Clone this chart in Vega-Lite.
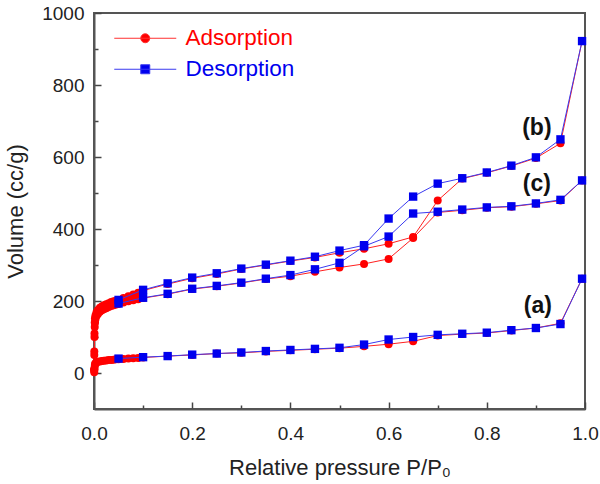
{
  "$schema": "https://vega.github.io/schema/vega-lite/v6.json",
  "width": 491,
  "height": 396,
  "autosize": {"type": "none"},
  "padding": {"left": 94, "top": 13, "right": 15, "bottom": 75},
  "background": "white",
  "config": {
    "font": "Liberation Sans",
    "view": {"stroke": "#555555", "strokeWidth": 2},
    "axis": {
      "grid": false,
      "domainColor": "#555555",
      "domainWidth": 2,
      "tickColor": "#444444",
      "tickWidth": 1.5,
      "labelFont": "Liberation Sans",
      "labelFontSize": 19,
      "labelColor": "#222222",
      "labelFlush": false,
      "labelOverlap": false,
      "titleFont": "Liberation Sans",
      "titleFontSize": 22,
      "titleFontWeight": "normal",
      "titleColor": "#222222"
    }
  },
  "datasets": {
    "iso": [
      {"c": "a", "t": "Adsorption", "p": 0.0005, "v": 2},
      {"c": "a", "t": "Adsorption", "p": 0.001, "v": 10},
      {"c": "a", "t": "Adsorption", "p": 0.0015, "v": 18},
      {"c": "a", "t": "Adsorption", "p": 0.002, "v": 24},
      {"c": "a", "t": "Adsorption", "p": 0.003, "v": 27},
      {"c": "a", "t": "Adsorption", "p": 0.005, "v": 29},
      {"c": "a", "t": "Adsorption", "p": 0.008, "v": 31},
      {"c": "a", "t": "Adsorption", "p": 0.012, "v": 32},
      {"c": "a", "t": "Adsorption", "p": 0.016, "v": 33},
      {"c": "a", "t": "Adsorption", "p": 0.02, "v": 34},
      {"c": "a", "t": "Adsorption", "p": 0.025, "v": 35},
      {"c": "a", "t": "Adsorption", "p": 0.03, "v": 36},
      {"c": "a", "t": "Adsorption", "p": 0.035, "v": 36},
      {"c": "a", "t": "Adsorption", "p": 0.04, "v": 37},
      {"c": "a", "t": "Adsorption", "p": 0.045, "v": 38},
      {"c": "a", "t": "Adsorption", "p": 0.05, "v": 38},
      {"c": "a", "t": "Adsorption", "p": 0.06, "v": 39},
      {"c": "a", "t": "Adsorption", "p": 0.07, "v": 40},
      {"c": "a", "t": "Adsorption", "p": 0.08, "v": 41},
      {"c": "a", "t": "Adsorption", "p": 0.09, "v": 42},
      {"c": "a", "t": "Adsorption", "p": 0.1, "v": 43},
      {"c": "a", "t": "Adsorption", "p": 0.15, "v": 47},
      {"c": "a", "t": "Adsorption", "p": 0.2, "v": 50},
      {"c": "a", "t": "Adsorption", "p": 0.25, "v": 54},
      {"c": "a", "t": "Adsorption", "p": 0.3, "v": 56},
      {"c": "a", "t": "Adsorption", "p": 0.35, "v": 60},
      {"c": "a", "t": "Adsorption", "p": 0.4, "v": 63},
      {"c": "a", "t": "Adsorption", "p": 0.45, "v": 66},
      {"c": "a", "t": "Adsorption", "p": 0.5, "v": 69},
      {"c": "a", "t": "Adsorption", "p": 0.55, "v": 74},
      {"c": "a", "t": "Adsorption", "p": 0.6, "v": 80},
      {"c": "a", "t": "Adsorption", "p": 0.65, "v": 88},
      {"c": "a", "t": "Adsorption", "p": 0.7, "v": 104},
      {"c": "a", "t": "Adsorption", "p": 0.75, "v": 108},
      {"c": "a", "t": "Adsorption", "p": 0.8, "v": 111},
      {"c": "a", "t": "Adsorption", "p": 0.85, "v": 118},
      {"c": "a", "t": "Adsorption", "p": 0.9, "v": 125},
      {"c": "a", "t": "Adsorption", "p": 0.95, "v": 138},
      {"c": "a", "t": "Adsorption", "p": 0.994, "v": 262},
      {"c": "a", "t": "Desorption", "p": 0.05, "v": 40},
      {"c": "a", "t": "Desorption", "p": 0.1, "v": 44},
      {"c": "a", "t": "Desorption", "p": 0.15, "v": 47},
      {"c": "a", "t": "Desorption", "p": 0.2, "v": 51},
      {"c": "a", "t": "Desorption", "p": 0.25, "v": 54},
      {"c": "a", "t": "Desorption", "p": 0.3, "v": 57},
      {"c": "a", "t": "Desorption", "p": 0.35, "v": 61},
      {"c": "a", "t": "Desorption", "p": 0.4, "v": 64},
      {"c": "a", "t": "Desorption", "p": 0.45, "v": 67},
      {"c": "a", "t": "Desorption", "p": 0.5, "v": 70},
      {"c": "a", "t": "Desorption", "p": 0.55, "v": 79},
      {"c": "a", "t": "Desorption", "p": 0.6, "v": 93},
      {"c": "a", "t": "Desorption", "p": 0.65, "v": 100},
      {"c": "a", "t": "Desorption", "p": 0.7, "v": 106},
      {"c": "a", "t": "Desorption", "p": 0.75, "v": 109},
      {"c": "a", "t": "Desorption", "p": 0.8, "v": 112},
      {"c": "a", "t": "Desorption", "p": 0.85, "v": 119},
      {"c": "a", "t": "Desorption", "p": 0.9, "v": 125},
      {"c": "a", "t": "Desorption", "p": 0.95, "v": 136},
      {"c": "a", "t": "Desorption", "p": 0.994, "v": 262},

      {"c": "b", "t": "Adsorption", "p": 0.0003, "v": 10},
      {"c": "b", "t": "Adsorption", "p": 0.0006, "v": 60},
      {"c": "b", "t": "Adsorption", "p": 0.001, "v": 110},
      {"c": "b", "t": "Adsorption", "p": 0.0015, "v": 140},
      {"c": "b", "t": "Adsorption", "p": 0.002, "v": 152},
      {"c": "b", "t": "Adsorption", "p": 0.003, "v": 160},
      {"c": "b", "t": "Adsorption", "p": 0.005, "v": 168},
      {"c": "b", "t": "Adsorption", "p": 0.008, "v": 175},
      {"c": "b", "t": "Adsorption", "p": 0.012, "v": 181},
      {"c": "b", "t": "Adsorption", "p": 0.016, "v": 185},
      {"c": "b", "t": "Adsorption", "p": 0.02, "v": 188},
      {"c": "b", "t": "Adsorption", "p": 0.025, "v": 191},
      {"c": "b", "t": "Adsorption", "p": 0.03, "v": 194},
      {"c": "b", "t": "Adsorption", "p": 0.035, "v": 197},
      {"c": "b", "t": "Adsorption", "p": 0.04, "v": 199},
      {"c": "b", "t": "Adsorption", "p": 0.045, "v": 201},
      {"c": "b", "t": "Adsorption", "p": 0.05, "v": 203},
      {"c": "b", "t": "Adsorption", "p": 0.06, "v": 208},
      {"c": "b", "t": "Adsorption", "p": 0.07, "v": 213},
      {"c": "b", "t": "Adsorption", "p": 0.08, "v": 218},
      {"c": "b", "t": "Adsorption", "p": 0.09, "v": 223},
      {"c": "b", "t": "Adsorption", "p": 0.1, "v": 229},
      {"c": "b", "t": "Adsorption", "p": 0.15, "v": 247},
      {"c": "b", "t": "Adsorption", "p": 0.2, "v": 263},
      {"c": "b", "t": "Adsorption", "p": 0.25, "v": 275},
      {"c": "b", "t": "Adsorption", "p": 0.3, "v": 289},
      {"c": "b", "t": "Adsorption", "p": 0.35, "v": 300},
      {"c": "b", "t": "Adsorption", "p": 0.4, "v": 311},
      {"c": "b", "t": "Adsorption", "p": 0.45, "v": 321},
      {"c": "b", "t": "Adsorption", "p": 0.5, "v": 334},
      {"c": "b", "t": "Adsorption", "p": 0.55, "v": 345},
      {"c": "b", "t": "Adsorption", "p": 0.6, "v": 359},
      {"c": "b", "t": "Adsorption", "p": 0.65, "v": 378},
      {"c": "b", "t": "Adsorption", "p": 0.7, "v": 479},
      {"c": "b", "t": "Adsorption", "p": 0.75, "v": 540},
      {"c": "b", "t": "Adsorption", "p": 0.8, "v": 556},
      {"c": "b", "t": "Adsorption", "p": 0.85, "v": 575},
      {"c": "b", "t": "Adsorption", "p": 0.9, "v": 597},
      {"c": "b", "t": "Adsorption", "p": 0.95, "v": 638},
      {"c": "b", "t": "Adsorption", "p": 0.994, "v": 922},
      {"c": "b", "t": "Desorption", "p": 0.05, "v": 203},
      {"c": "b", "t": "Desorption", "p": 0.1, "v": 231},
      {"c": "b", "t": "Desorption", "p": 0.15, "v": 249},
      {"c": "b", "t": "Desorption", "p": 0.2, "v": 265},
      {"c": "b", "t": "Desorption", "p": 0.25, "v": 277},
      {"c": "b", "t": "Desorption", "p": 0.3, "v": 290},
      {"c": "b", "t": "Desorption", "p": 0.35, "v": 301},
      {"c": "b", "t": "Desorption", "p": 0.4, "v": 312},
      {"c": "b", "t": "Desorption", "p": 0.45, "v": 323},
      {"c": "b", "t": "Desorption", "p": 0.5, "v": 340},
      {"c": "b", "t": "Desorption", "p": 0.55, "v": 355},
      {"c": "b", "t": "Desorption", "p": 0.6, "v": 429},
      {"c": "b", "t": "Desorption", "p": 0.65, "v": 490},
      {"c": "b", "t": "Desorption", "p": 0.7, "v": 526},
      {"c": "b", "t": "Desorption", "p": 0.75, "v": 541},
      {"c": "b", "t": "Desorption", "p": 0.8, "v": 557},
      {"c": "b", "t": "Desorption", "p": 0.85, "v": 576},
      {"c": "b", "t": "Desorption", "p": 0.9, "v": 599},
      {"c": "b", "t": "Desorption", "p": 0.95, "v": 649},
      {"c": "b", "t": "Desorption", "p": 0.994, "v": 922},

      {"c": "c", "t": "Adsorption", "p": 0.0003, "v": 8},
      {"c": "c", "t": "Adsorption", "p": 0.0006, "v": 50},
      {"c": "c", "t": "Adsorption", "p": 0.001, "v": 100},
      {"c": "c", "t": "Adsorption", "p": 0.0015, "v": 128},
      {"c": "c", "t": "Adsorption", "p": 0.002, "v": 140},
      {"c": "c", "t": "Adsorption", "p": 0.003, "v": 150},
      {"c": "c", "t": "Adsorption", "p": 0.005, "v": 158},
      {"c": "c", "t": "Adsorption", "p": 0.008, "v": 164},
      {"c": "c", "t": "Adsorption", "p": 0.012, "v": 170},
      {"c": "c", "t": "Adsorption", "p": 0.016, "v": 174},
      {"c": "c", "t": "Adsorption", "p": 0.02, "v": 177},
      {"c": "c", "t": "Adsorption", "p": 0.025, "v": 180},
      {"c": "c", "t": "Adsorption", "p": 0.03, "v": 183},
      {"c": "c", "t": "Adsorption", "p": 0.035, "v": 186},
      {"c": "c", "t": "Adsorption", "p": 0.04, "v": 188},
      {"c": "c", "t": "Adsorption", "p": 0.045, "v": 190},
      {"c": "c", "t": "Adsorption", "p": 0.05, "v": 192},
      {"c": "c", "t": "Adsorption", "p": 0.06, "v": 196},
      {"c": "c", "t": "Adsorption", "p": 0.07, "v": 199},
      {"c": "c", "t": "Adsorption", "p": 0.08, "v": 202},
      {"c": "c", "t": "Adsorption", "p": 0.09, "v": 205},
      {"c": "c", "t": "Adsorption", "p": 0.1, "v": 208},
      {"c": "c", "t": "Adsorption", "p": 0.15, "v": 219},
      {"c": "c", "t": "Adsorption", "p": 0.2, "v": 233},
      {"c": "c", "t": "Adsorption", "p": 0.25, "v": 241},
      {"c": "c", "t": "Adsorption", "p": 0.3, "v": 250},
      {"c": "c", "t": "Adsorption", "p": 0.35, "v": 261},
      {"c": "c", "t": "Adsorption", "p": 0.4, "v": 269},
      {"c": "c", "t": "Adsorption", "p": 0.45, "v": 281},
      {"c": "c", "t": "Adsorption", "p": 0.5, "v": 293},
      {"c": "c", "t": "Adsorption", "p": 0.55, "v": 303},
      {"c": "c", "t": "Adsorption", "p": 0.6, "v": 317},
      {"c": "c", "t": "Adsorption", "p": 0.65, "v": 375},
      {"c": "c", "t": "Adsorption", "p": 0.7, "v": 446},
      {"c": "c", "t": "Adsorption", "p": 0.75, "v": 452},
      {"c": "c", "t": "Adsorption", "p": 0.8, "v": 459},
      {"c": "c", "t": "Adsorption", "p": 0.85, "v": 462},
      {"c": "c", "t": "Adsorption", "p": 0.9, "v": 470},
      {"c": "c", "t": "Adsorption", "p": 0.95, "v": 479},
      {"c": "c", "t": "Adsorption", "p": 0.994, "v": 535},
      {"c": "c", "t": "Desorption", "p": 0.05, "v": 193},
      {"c": "c", "t": "Desorption", "p": 0.1, "v": 209},
      {"c": "c", "t": "Desorption", "p": 0.15, "v": 220},
      {"c": "c", "t": "Desorption", "p": 0.2, "v": 234},
      {"c": "c", "t": "Desorption", "p": 0.25, "v": 242},
      {"c": "c", "t": "Desorption", "p": 0.3, "v": 251},
      {"c": "c", "t": "Desorption", "p": 0.35, "v": 262},
      {"c": "c", "t": "Desorption", "p": 0.4, "v": 272},
      {"c": "c", "t": "Desorption", "p": 0.45, "v": 288},
      {"c": "c", "t": "Desorption", "p": 0.5, "v": 306},
      {"c": "c", "t": "Desorption", "p": 0.55, "v": 352},
      {"c": "c", "t": "Desorption", "p": 0.6, "v": 379},
      {"c": "c", "t": "Desorption", "p": 0.65, "v": 443},
      {"c": "c", "t": "Desorption", "p": 0.7, "v": 448},
      {"c": "c", "t": "Desorption", "p": 0.75, "v": 454},
      {"c": "c", "t": "Desorption", "p": 0.8, "v": 460},
      {"c": "c", "t": "Desorption", "p": 0.85, "v": 463},
      {"c": "c", "t": "Desorption", "p": 0.9, "v": 471},
      {"c": "c", "t": "Desorption", "p": 0.95, "v": 481},
      {"c": "c", "t": "Desorption", "p": 0.994, "v": 535}
    ],
    "labels": [
      {"lab": "(a)", "p": 0.904, "v": 187},
      {"lab": "(b)", "p": 0.902, "v": 680},
      {"lab": "(c)", "p": 0.902, "v": 526}
    ]
  },
  "encoding": {
    "x": {
      "field": "p", "type": "quantitative",
      "scale": {"domain": [0, 1], "nice": false, "zero": false},
      "axis": {
        "title": "Relative pressure P/P₀",
        "values": [0, 0.1, 0.2, 0.3, 0.4, 0.5, 0.6, 0.7, 0.8, 0.9, 1.0],
        "format": ".1f",
        "labelExpr": "round(datum.value * 10) % 2 === 0 ? datum.label : ''",
        "tickSize": {"condition": {"test": "round(datum.value * 10) % 2 === 0", "value": -7}, "value": -4},
        "labelPadding": 22,
        "titlePadding": 11
      }
    },
    "y": {
      "field": "v", "type": "quantitative",
      "scale": {"domain": [-100, 1000], "nice": false, "zero": false},
      "axis": {
        "title": "Volume (cc/g)",
        "values": [0, 100, 200, 300, 400, 500, 600, 700, 800, 900, 1000],
        "format": "d",
        "labelExpr": "datum.value % 200 === 0 ? datum.label : ''",
        "tickSize": {"condition": {"test": "datum.value % 200 === 0", "value": -7}, "value": -4},
        "labelPadding": 17,
        "titlePadding": 14
      }
    }
  },
  "layer": [
    {
      "data": {"name": "iso"},
      "transform": [{"filter": "datum.t === 'Adsorption'"}],
      "mark": {"type": "line", "color": "#ff2020", "strokeWidth": 1},
      "encoding": {"detail": {"field": "c"}, "order": {"field": "p", "type": "quantitative"}}
    },
    {
      "data": {"name": "iso"},
      "transform": [{"filter": "datum.t === 'Adsorption'"}],
      "mark": {"type": "point", "shape": "circle", "filled": true, "opacity": 1, "color": "#ff0000", "size": 64}
    },
    {
      "data": {"name": "iso"},
      "transform": [{"filter": "datum.t === 'Desorption'"}],
      "mark": {"type": "line", "color": "#3a3af0", "strokeWidth": 1},
      "encoding": {"detail": {"field": "c"}, "order": {"field": "p", "type": "quantitative"}}
    },
    {
      "data": {"name": "iso"},
      "transform": [{"filter": "datum.t === 'Desorption'"}],
      "mark": {"type": "point", "shape": "square", "filled": true, "opacity": 1, "color": "#0000ee", "size": 70}
    },
    {
      "data": {"name": "labels"},
      "mark": {"type": "text", "font": "Liberation Sans", "fontSize": 23, "fontWeight": "bold", "color": "#111111"},
      "encoding": {"text": {"field": "lab"}}
    },
    {
      "data": {"name": "iso"},
      "transform": [{"filter": "datum.v < -5000"}],
      "mark": {"type": "point", "filled": true, "opacity": 1, "strokeWidth": 1},
      "encoding": {
        "fill": {
          "field": "t", "type": "nominal",
          "scale": {"domain": ["Adsorption", "Desorption"], "range": ["#ff0000", "#0000ee"]},
          "legend": {
            "title": null,
            "orient": "none",
            "legendX": 40,
            "legendY": 14,
            "padding": 0,
            "symbolSize": 400,
            "symbolStrokeWidth": 1,
            "labelFont": "Liberation Sans",
            "labelFontSize": 22.5,
            "labelOffset": 29,
            "rowPadding": 8,
            "labelColor": {"expr": "datum.label === 'Adsorption' ? '#ff0000' : '#0000ee'"}
          }
        },
        "stroke": {
          "field": "t", "type": "nominal",
          "scale": {"domain": ["Adsorption", "Desorption"], "range": ["#ff3030", "#3a3af0"]},
          "legend": {
            "title": null,
            "orient": "none",
            "legendX": 40,
            "legendY": 14,
            "padding": 0,
            "symbolSize": 400,
            "labelFontSize": 22.5,
            "labelOffset": 29,
            "rowPadding": 8
          }
        },
        "shape": {
          "field": "t", "type": "nominal",
          "scale": {"domain": ["Adsorption", "Desorption"], "range": ["M-3.1,0H3.1M-0.45,0A0.45,0.45 0 1,0 0.45,0A0.45,0.45 0 1,0 -0.45,0Z", "M-3.1,0H3.1M-0.45,-0.45H0.45V0.45H-0.45Z"]},
          "legend": {
            "title": null,
            "orient": "none",
            "legendX": 40,
            "legendY": 14,
            "padding": 0,
            "symbolSize": 400,
            "labelFontSize": 22.5,
            "labelOffset": 29,
            "rowPadding": 8
          }
        }
      }
    }
  ]
}
